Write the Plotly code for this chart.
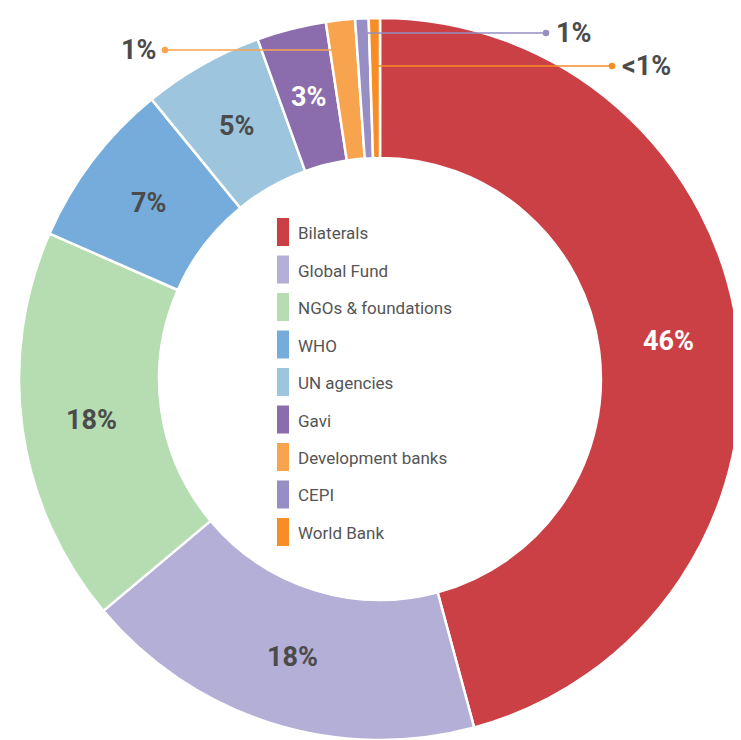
import math
import plotly.graph_objects as go

# ---------------- data ----------------
labels = ["Bilaterals", "Global Fund", "NGOs & foundations", "WHO", "UN agencies",
          "Gavi", "Development banks", "CEPI", "World Bank"]
values = [45.8, 18.1, 17.7, 7.5, 5.4, 3.1, 1.3, 0.6, 0.5]
pct_labels = ["46%", "18%", "18%", "7%", "5%", "3%", "1%", "1%", "<1%"]
colors = ["#CB4045", "#B4AFD6", "#B6DDB2", "#76ACDB", "#9DC5DE",
          "#8B6CAD", "#F8A44E", "#968EC5", "#F68D27"]
text_colors = ["#FFFFFF", "#4B4B4B", "#4B4B4B", "#4B4B4B", "#4B4B4B",
               "#FFFFFF", "#4B4B4B", "#4B4B4B", "#4B4B4B"]
outside = [False, False, False, False, False, False, True, True, True]

# ---------------- layout geometry (screen pixels) ----------------
OFF = 8                      # page body margin
W, H = 741 - OFF, 740 - OFF  # figure fits inside the window, no scrollbars
cx, cy, R = 380.0, 379.0, 361.0
HOLE = 0.612
FONT = "Roboto, 'Open Sans', sans-serif"
DARK = "#4B4B4B"


def px_x(x):
    return (x - OFF) / W


def px_y(y):
    return (H - (y - OFF)) / H


fig = go.Figure(go.Pie(
    labels=labels,
    values=values,
    textinfo="none",
    marker=dict(colors=colors, line=dict(color="white", width=2.5)),
    hole=HOLE,
    sort=False,
    direction="clockwise",
    rotation=0,
    hoverinfo="label+percent",
    domain=dict(x=[px_x(cx - R), px_x(cx + R)], y=[px_y(cy + R), px_y(cy - R)]),
    showlegend=False,
))

shapes = []
annotations = []

total = sum(values)
cum = 0.0
r_mid = R * (1 + HOLE) / 2
label_y = {6: 50, 7: 33, 8: 66}
dot_x = {6: 165, 7: 546, 8: 612}
for i, v in enumerate(values):
    mid = (cum + v / 2) / total * 2 * math.pi
    cum += v
    if not outside[i]:
        # percentage label in the middle of the ring
        annotations.append(dict(xref="paper", yref="paper",
                                x=px_x(cx + r_mid * math.sin(mid)),
                                y=px_y(cy - r_mid * math.cos(mid)),
                                xanchor="center", yanchor="middle",
                                text="<b>%s</b>" % pct_labels[i], showarrow=False,
                                font=dict(family=FONT, size=27, color=text_colors[i])))
        continue
    # leader line for the thin slices, starting inside the slice at its mid-angle
    y = label_y[i]
    r = (cy - y) / math.cos(mid)
    x0 = cx + r * math.sin(mid)
    x1 = dot_x[i]
    shapes.append(dict(type="line", xref="paper", yref="paper",
                       x0=px_x(x0), x1=px_x(x1), y0=px_y(y), y1=px_y(y),
                       line=dict(color=colors[i], width=1.6)))
    shapes.append(dict(type="circle", xref="paper", yref="paper",
                       x0=px_x(x1 - 3.3), x1=px_x(x1 + 3.3),
                       y0=px_y(y + 3.3), y1=px_y(y - 3.3),
                       fillcolor=colors[i], line=dict(width=0)))
    left = x1 < cx
    annotations.append(dict(xref="paper", yref="paper",
                            x=px_x(x1 - 7 if left else x1 + 8), y=px_y(y),
                            xanchor="right" if left else "left", yanchor="middle",
                            text="<b>%s</b>" % pct_labels[i], showarrow=False,
                            font=dict(family=FONT, size=27, color=DARK)))

# custom legend inside the hole
leg_x, leg_top, leg_step = 277, 232, 37.5
for i, lab in enumerate(labels):
    yc = leg_top + i * leg_step
    shapes.append(dict(type="rect", xref="paper", yref="paper",
                       x0=px_x(leg_x), x1=px_x(leg_x + 12),
                       y0=px_y(yc + 14), y1=px_y(yc - 14),
                       fillcolor=colors[i], line=dict(width=0)))
    annotations.append(dict(xref="paper", yref="paper",
                            x=px_x(leg_x + 19), y=px_y(yc + 1),
                            xanchor="left", yanchor="middle", text=lab,
                            showarrow=False,
                            font=dict(family=FONT, size=17, color="#555555")))

fig.update_layout(
    width=W, height=H,
    margin=dict(l=0, r=0, t=0, b=0),
    paper_bgcolor="white",
    plot_bgcolor="white",
    shapes=shapes,
    annotations=annotations,
)

fig.write_html("out.html")
